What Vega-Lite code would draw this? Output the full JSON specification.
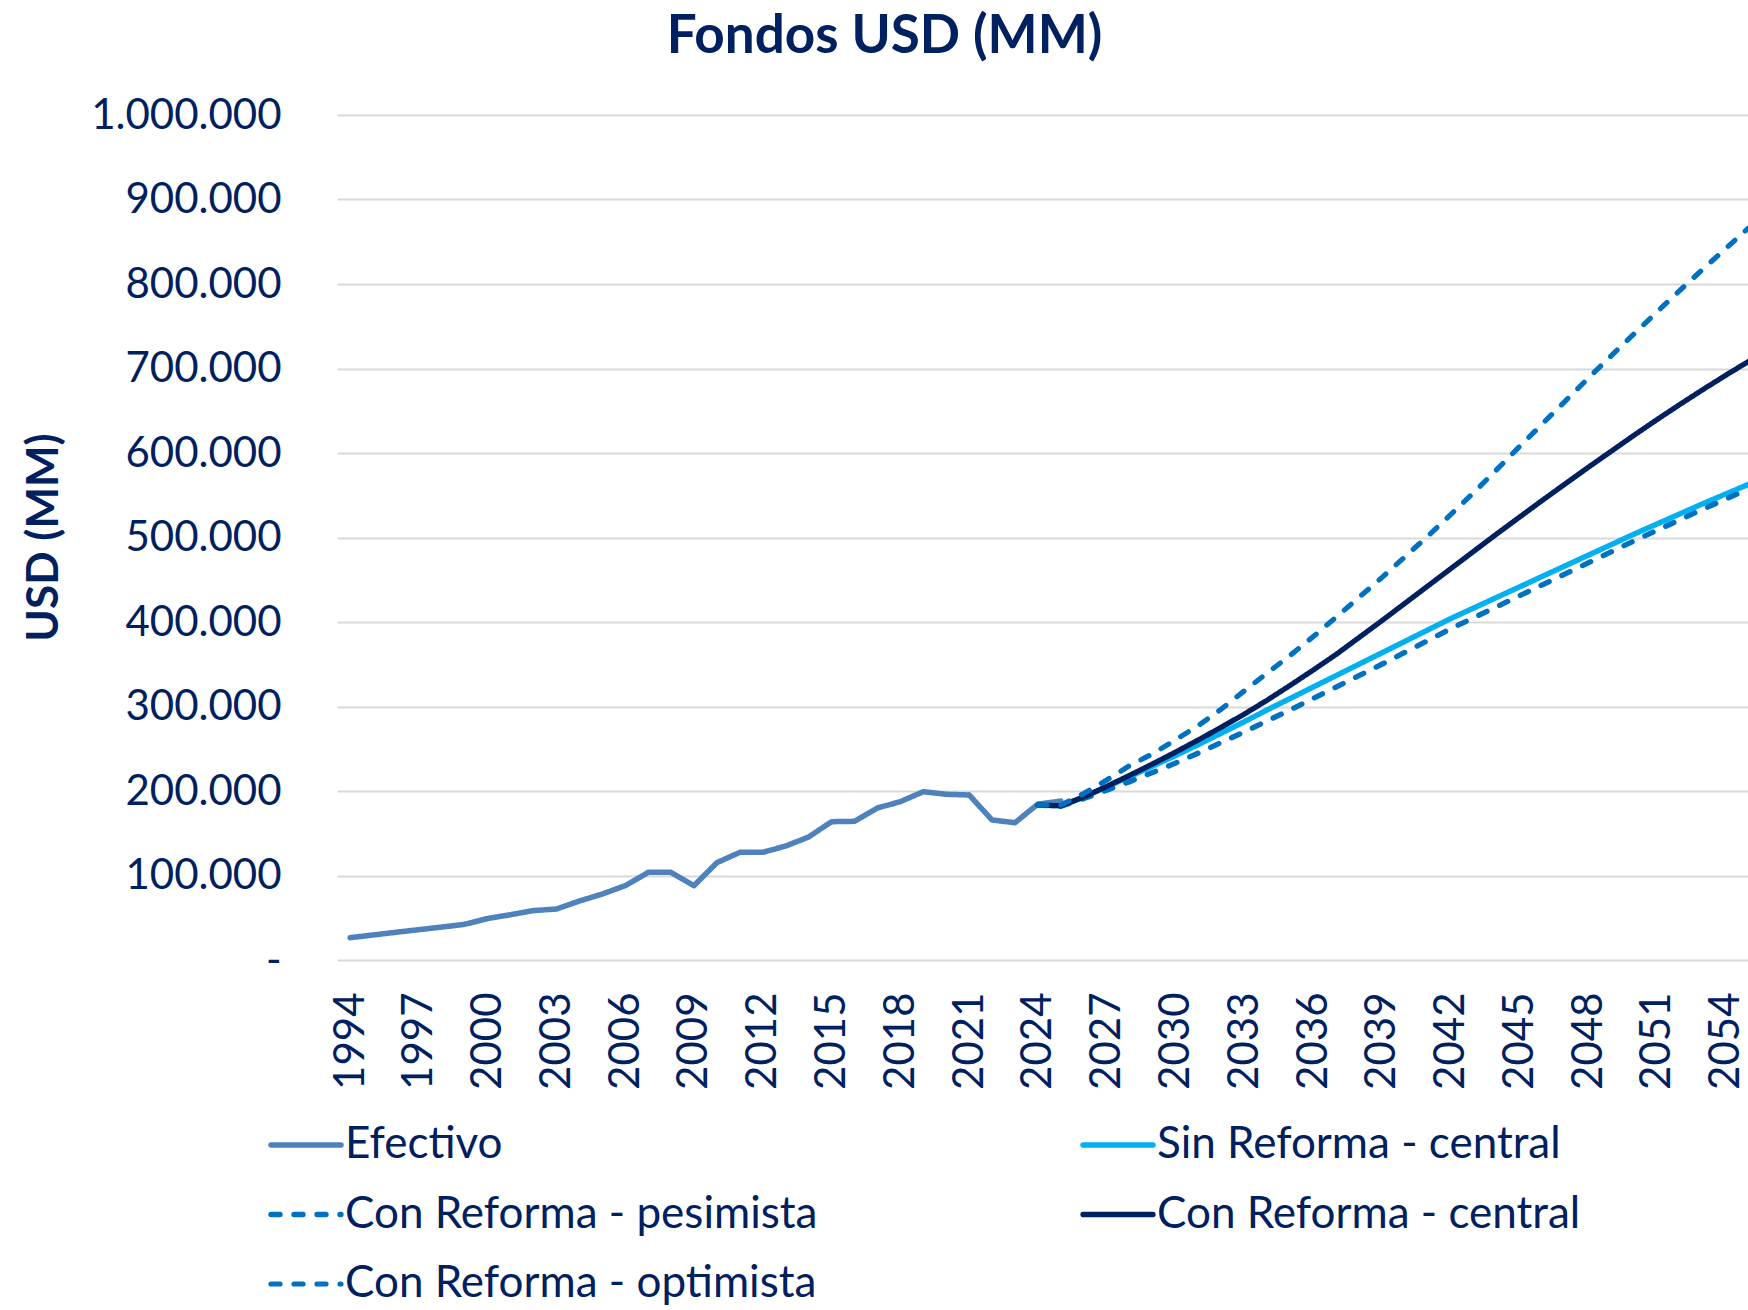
{
  "$schema": "https://vega.github.io/schema/vega-lite/v6.json",
  "autosize": "none",
  "width": 1411,
  "height": 845,
  "padding": {"left": 337, "top": 115, "right": 0, "bottom": 350},
  "background": "white",
  "title": {"text": "Fondos USD (MM)", "font": "Lato", "fontSize": 53, "fontWeight": "bold", "color": "#002060", "anchor": "middle", "dx": -158, "offset": -12, "baseline": "alphabetic"},
  "config": {"view": {"stroke": null}, "font": "Lato"},
  "data": {"values": [
    {"year": 1994, "Efectivo": 26400},
    {"year": 1995, "Efectivo": 29600},
    {"year": 1996, "Efectivo": 32800},
    {"year": 1997, "Efectivo": 35900},
    {"year": 1998, "Efectivo": 39000},
    {"year": 1999, "Efectivo": 42200},
    {"year": 2000, "Efectivo": 49100},
    {"year": 2001, "Efectivo": 53600},
    {"year": 2002, "Efectivo": 58500},
    {"year": 2003, "Efectivo": 60300},
    {"year": 2004, "Efectivo": 69800},
    {"year": 2005, "Efectivo": 78100},
    {"year": 2006, "Efectivo": 88000},
    {"year": 2007, "Efectivo": 103700},
    {"year": 2008, "Efectivo": 103700},
    {"year": 2009, "Efectivo": 88000},
    {"year": 2010, "Efectivo": 115200},
    {"year": 2011, "Efectivo": 127400},
    {"year": 2012, "Efectivo": 127400},
    {"year": 2013, "Efectivo": 134900},
    {"year": 2014, "Efectivo": 145600},
    {"year": 2015, "Efectivo": 163700},
    {"year": 2016, "Efectivo": 164100},
    {"year": 2017, "Efectivo": 179900},
    {"year": 2018, "Efectivo": 187400},
    {"year": 2019, "Efectivo": 199200},
    {"year": 2020, "Efectivo": 196100},
    {"year": 2021, "Efectivo": 195300},
    {"year": 2022, "Efectivo": 165700},
    {"year": 2023, "Efectivo": 162500},
    {"year": 2024, "Efectivo": 184500, "Sin Reforma - central": 183400, "Con Reforma - pesimista": 183400, "Con Reforma - central": 183400, "Con Reforma - optimista": 183400},
    {"year": 2025, "Efectivo": 188000, "Sin Reforma - central": 182500, "Con Reforma - pesimista": 182000, "Con Reforma - central": 182500, "Con Reforma - optimista": 183400},
    {"year": 2026, "Sin Reforma - central": 192500, "Con Reforma - pesimista": 191000, "Con Reforma - central": 193000, "Con Reforma - optimista": 197000},
    {"year": 2027, "Sin Reforma - central": 205000, "Con Reforma - pesimista": 201000, "Con Reforma - central": 205500, "Con Reforma - optimista": 213000},
    {"year": 2028, "Sin Reforma - central": 217000, "Con Reforma - pesimista": 211000, "Con Reforma - central": 218500, "Con Reforma - optimista": 230000},
    {"year": 2029, "Sin Reforma - central": 229500, "Con Reforma - pesimista": 222000, "Con Reforma - central": 232000, "Con Reforma - optimista": 244000},
    {"year": 2030, "Sin Reforma - central": 242000, "Con Reforma - pesimista": 233000, "Con Reforma - central": 246000, "Con Reforma - optimista": 260500},
    {"year": 2031, "Sin Reforma - central": 255000, "Con Reforma - pesimista": 245000, "Con Reforma - central": 260500, "Con Reforma - optimista": 277500},
    {"year": 2032, "Sin Reforma - central": 268500, "Con Reforma - pesimista": 257500, "Con Reforma - central": 275500, "Con Reforma - optimista": 297000},
    {"year": 2033, "Sin Reforma - central": 282000, "Con Reforma - pesimista": 270000, "Con Reforma - central": 291000, "Con Reforma - optimista": 318500},
    {"year": 2034, "Sin Reforma - central": 296000, "Con Reforma - pesimista": 283000, "Con Reforma - central": 307500, "Con Reforma - optimista": 339500},
    {"year": 2035, "Sin Reforma - central": 309500, "Con Reforma - pesimista": 296000, "Con Reforma - central": 325000, "Con Reforma - optimista": 360500},
    {"year": 2036, "Sin Reforma - central": 323000, "Con Reforma - pesimista": 309500, "Con Reforma - central": 343000, "Con Reforma - optimista": 382500},
    {"year": 2037, "Sin Reforma - central": 336500, "Con Reforma - pesimista": 323000, "Con Reforma - central": 361500, "Con Reforma - optimista": 405500},
    {"year": 2038, "Sin Reforma - central": 350000, "Con Reforma - pesimista": 336500, "Con Reforma - central": 381500, "Con Reforma - optimista": 429000},
    {"year": 2039, "Sin Reforma - central": 363500, "Con Reforma - pesimista": 350000, "Con Reforma - central": 401500, "Con Reforma - optimista": 452500},
    {"year": 2040, "Sin Reforma - central": 377000, "Con Reforma - pesimista": 364000, "Con Reforma - central": 422000, "Con Reforma - optimista": 477000},
    {"year": 2041, "Sin Reforma - central": 390500, "Con Reforma - pesimista": 378000, "Con Reforma - central": 442500, "Con Reforma - optimista": 501500},
    {"year": 2042, "Sin Reforma - central": 404000, "Con Reforma - pesimista": 392000, "Con Reforma - central": 463000, "Con Reforma - optimista": 527000},
    {"year": 2043, "Sin Reforma - central": 416500, "Con Reforma - pesimista": 405000, "Con Reforma - central": 483500, "Con Reforma - optimista": 553000},
    {"year": 2044, "Sin Reforma - central": 429000, "Con Reforma - pesimista": 418000, "Con Reforma - central": 504000, "Con Reforma - optimista": 580000},
    {"year": 2045, "Sin Reforma - central": 441500, "Con Reforma - pesimista": 431000, "Con Reforma - central": 524000, "Con Reforma - optimista": 607500},
    {"year": 2046, "Sin Reforma - central": 454000, "Con Reforma - pesimista": 444000, "Con Reforma - central": 544000, "Con Reforma - optimista": 634500},
    {"year": 2047, "Sin Reforma - central": 466500, "Con Reforma - pesimista": 457000, "Con Reforma - central": 563500, "Con Reforma - optimista": 661500},
    {"year": 2048, "Sin Reforma - central": 479000, "Con Reforma - pesimista": 470000, "Con Reforma - central": 583000, "Con Reforma - optimista": 688500},
    {"year": 2049, "Sin Reforma - central": 491500, "Con Reforma - pesimista": 483000, "Con Reforma - central": 602000, "Con Reforma - optimista": 715000},
    {"year": 2050, "Sin Reforma - central": 504000, "Con Reforma - pesimista": 496000, "Con Reforma - central": 621000, "Con Reforma - optimista": 741000},
    {"year": 2051, "Sin Reforma - central": 516000, "Con Reforma - pesimista": 508500, "Con Reforma - central": 639500, "Con Reforma - optimista": 767000},
    {"year": 2052, "Sin Reforma - central": 528000, "Con Reforma - pesimista": 521000, "Con Reforma - central": 657500, "Con Reforma - optimista": 792500},
    {"year": 2053, "Sin Reforma - central": 540000, "Con Reforma - pesimista": 533500, "Con Reforma - central": 675000, "Con Reforma - optimista": 817500},
    {"year": 2054, "Sin Reforma - central": 551500, "Con Reforma - pesimista": 545500, "Con Reforma - central": 692000, "Con Reforma - optimista": 842000},
    {"year": 2055, "Sin Reforma - central": 563000, "Con Reforma - pesimista": 557500, "Con Reforma - central": 708500, "Con Reforma - optimista": 866500}
  ]},
  "transform": [
    {"fold": ["Efectivo", "Sin Reforma - central", "Con Reforma - pesimista", "Con Reforma - central", "Con Reforma - optimista"], "as": ["series", "v"]},
    {"filter": "isValid(datum.v)"}
  ],
  "mark": {"type": "line", "clip": true, "strokeCap": "round", "strokeJoin": "round"},
  "encoding": {
    "x": {
      "field": "year", "type": "quantitative",
      "scale": {"domain": [1993.43, 2054.97], "nice": false, "zero": false},
      "axis": {
        "title": null,
        "values": [1994, 1997, 2000, 2003, 2006, 2009, 2012, 2015, 2018, 2021, 2024, 2027, 2030, 2033, 2036, 2039, 2042, 2045, 2048, 2051, 2054],
        "format": "d", "labelAngle": 270, "labelPadding": 32,
        "labelFont": "Lato", "labelFontSize": 42, "labelColor": "#002060",
        "labelOverlap": false, "labelFlush": false,
        "grid": false, "domain": false, "ticks": false
      }
    },
    "y": {
      "field": "v", "type": "quantitative",
      "scale": {"domain": [0, 1000000], "nice": false},
      "axis": {
        "title": "USD (MM)", "titleFont": "Lato", "titleFontSize": 44, "titleFontWeight": "bold", "titleColor": "#002060",
        "titleAngle": 270, "titleX": -280, "titleY": 422, "titleAlign": "center", "titleBaseline": "alphabetic",
        "values": [0, 100000, 200000, 300000, 400000, 500000, 600000, 700000, 800000, 900000, 1000000],
        "labelExpr": "datum.value === 0 ? '-' : replace(format(datum.value, ','), regexp(',', 'g'), '.')",
        "labelFont": "Lato", "labelFontSize": 42, "labelColor": "#002060", "labelPadding": 56, "labelLimit": 400,
        "grid": true, "gridColor": "#D9D9D9", "gridWidth": 2,
        "domain": false, "ticks": false
      }
    },
    "color": {
      "field": "series", "type": "nominal",
      "scale": {
        "domain": ["Efectivo", "Sin Reforma - central", "Con Reforma - pesimista", "Con Reforma - central", "Con Reforma - optimista"],
        "range": ["#4F81BD", "#00B0F0", "#0070C0", "#002060", "#0070C0"]
      },
      "legend": {
        "title": null, "orient": "none", "legendX": -69, "legendY": 992,
        "direction": "horizontal", "columns": 2, "columnPadding": 254, "rowPadding": 9.5, "padding": 0,
        "symbolType": "stroke", "symbolSize": 4900, "symbolStrokeWidth": 5, "symbolOffset": 0,
        "labelFont": "Lato", "labelFontSize": 44, "labelColor": "#002060", "labelOffset": 1, "labelLimit": 0,
        "encode": {"symbols": {"update": {
          "strokeDash": {"signal": "indexOf(datum.value, 'mista') >= 0 ? [13, 11] : [1, 0]"},
          "strokeCap": {"value": "round"}
        }}}
      }
    },
    "strokeDash": {
      "field": "series", "type": "nominal",
      "scale": {
        "domain": ["Efectivo", "Sin Reforma - central", "Con Reforma - pesimista", "Con Reforma - central", "Con Reforma - optimista"],
        "range": [[1, 0], [1, 0], [9, 14], [1, 0], [9, 14]]
      }
    },
    "strokeWidth": {
      "field": "series", "type": "ordinal",
      "scale": {
        "domain": ["Efectivo", "Sin Reforma - central", "Con Reforma - pesimista", "Con Reforma - central", "Con Reforma - optimista"],
        "range": [5.5, 5.2, 5.5, 4.2, 5.5]
      },
      "legend": null
    }
  }
}
